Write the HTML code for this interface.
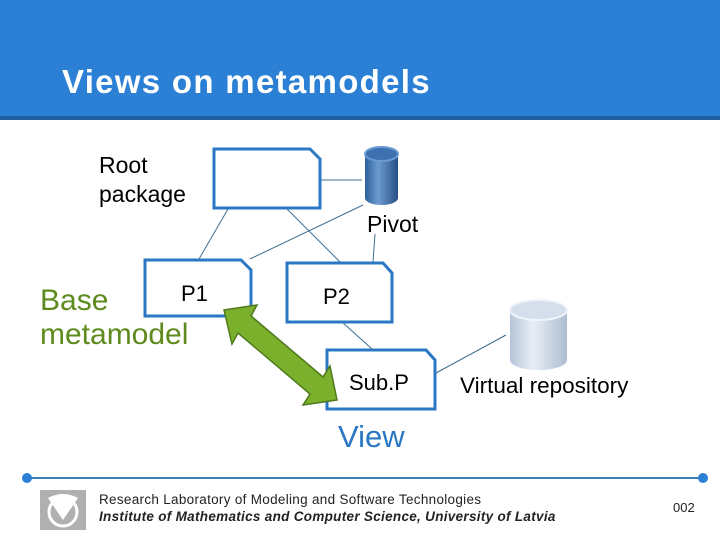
<!DOCTYPE html>
<html><head><style>
body{margin:0;width:720px;height:540px;overflow:hidden;background:#fff;font-family:"Liberation Sans",sans-serif;position:relative}
.t{position:absolute;white-space:nowrap}
</style></head><body>
<div style="position:absolute;left:0;top:0;width:720px;height:116px;background:#2b80d6"></div>
<div style="position:absolute;left:0;top:116px;width:720px;height:4px;background:#1f5f9f"></div>
<div class="t" style="left:62px;top:63px;font-size:33px;letter-spacing:1.3px;font-weight:bold;color:#fff">Views on metamodels</div>
<svg width="720" height="540" style="position:absolute;left:0;top:0">
<defs>
<linearGradient id="cb" x1="0" x2="1"><stop offset="0" stop-color="#2c5f9c"/><stop offset="0.4" stop-color="#6d9bd0"/><stop offset="1" stop-color="#254f85"/></linearGradient>
<linearGradient id="cv" x1="0" x2="1"><stop offset="0" stop-color="#b5c4d8"/><stop offset="0.4" stop-color="#e8eef6"/><stop offset="1" stop-color="#aebdd2"/></linearGradient>
</defs>
<g stroke="#3f6f8f" stroke-width="1" fill="none">
<line x1="228" y1="209" x2="199" y2="259"/>
<line x1="287" y1="209" x2="340" y2="262"/>
<line x1="320" y1="180" x2="362" y2="180"/>
<line x1="363" y1="205" x2="250" y2="259"/>
<line x1="375" y1="234" x2="373" y2="262"/>
<line x1="342" y1="322" x2="372" y2="349"/>
<line x1="436" y1="373" x2="506" y2="335"/>
</g>
<g fill="#fff" stroke="#2a78c4" stroke-width="3">
<path d="M214 149H310L320 159V208H214Z"/>
<path d="M145 260H241L251 270V316H145Z"/>
<path d="M287 263H383L392 273V322H287Z"/>
<path d="M327 350H426L435 360V409H327Z"/>
</g>
<path d="M365 154V198A16.5 7 0 0 0 398 198V154Z" fill="url(#cb)"/>
<ellipse cx="381.5" cy="154" rx="16.5" ry="7" fill="#3c70b0" stroke="#6a9ad3" stroke-width="2"/>
<path d="M510 310V360A28.5 10 0 0 0 567 360V310Z" fill="url(#cv)"/>
<ellipse cx="538.5" cy="310" rx="28.5" ry="10" fill="#d5dfec" stroke="#f0f4fa" stroke-width="2"/>
<path d="M224 310L257 305L251 316L323 377L330 366L337 400L303 405L310 394L238 333L232 344Z" fill="#7ab02c" stroke="#4f7a1c" stroke-width="1.5"/>
<line x1="30" y1="478" x2="700" y2="478" stroke="#3b7fb7" stroke-width="2"/>
<circle cx="27" cy="478" r="5" fill="#2b80d6"/><circle cx="703" cy="478" r="5" fill="#2b80d6"/>
<g fill="#b0b0b0"><path d="M40 490H86V530H40Z"/></g>
<path d="M48 498Q63 490 78 498L63 520Z" fill="#fff"/>
<circle cx="63" cy="512" r="14" fill="none" stroke="#fff" stroke-width="3"/>
</svg>
<div class="t" style="left:99px;top:151px;font-size:23px;line-height:29px;color:#000">Root<br>package</div>
<div class="t" style="left:367px;top:211px;font-size:23px">Pivot</div>
<div class="t" style="left:181px;top:281px;font-size:22px">P1</div>
<div class="t" style="left:323px;top:284px;font-size:22px">P2</div>
<div class="t" style="left:349px;top:370px;font-size:22px">Sub.P</div>
<div class="t" style="left:460px;top:373px;font-size:22.5px">Virtual repository</div>
<div class="t" style="left:40px;top:284px;font-size:30px;line-height:34px;color:#5e8a1e">Base<br>metamodel</div>
<div class="t" style="left:338px;top:419px;font-size:31px;color:#2a78c4">View</div>
<div class="t" style="left:99px;top:492px;font-size:13.5px;letter-spacing:0.3px;color:#222">Research Laboratory of Modeling and Software Technologies</div>
<div class="t" style="left:99px;top:509px;font-size:13.5px;letter-spacing:0.3px;font-weight:bold;font-style:italic;color:#222">Institute of Mathematics and Computer Science, University of Latvia</div>
<div class="t" style="left:673px;top:500px;font-size:13px;color:#222">002</div>
</body></html>
